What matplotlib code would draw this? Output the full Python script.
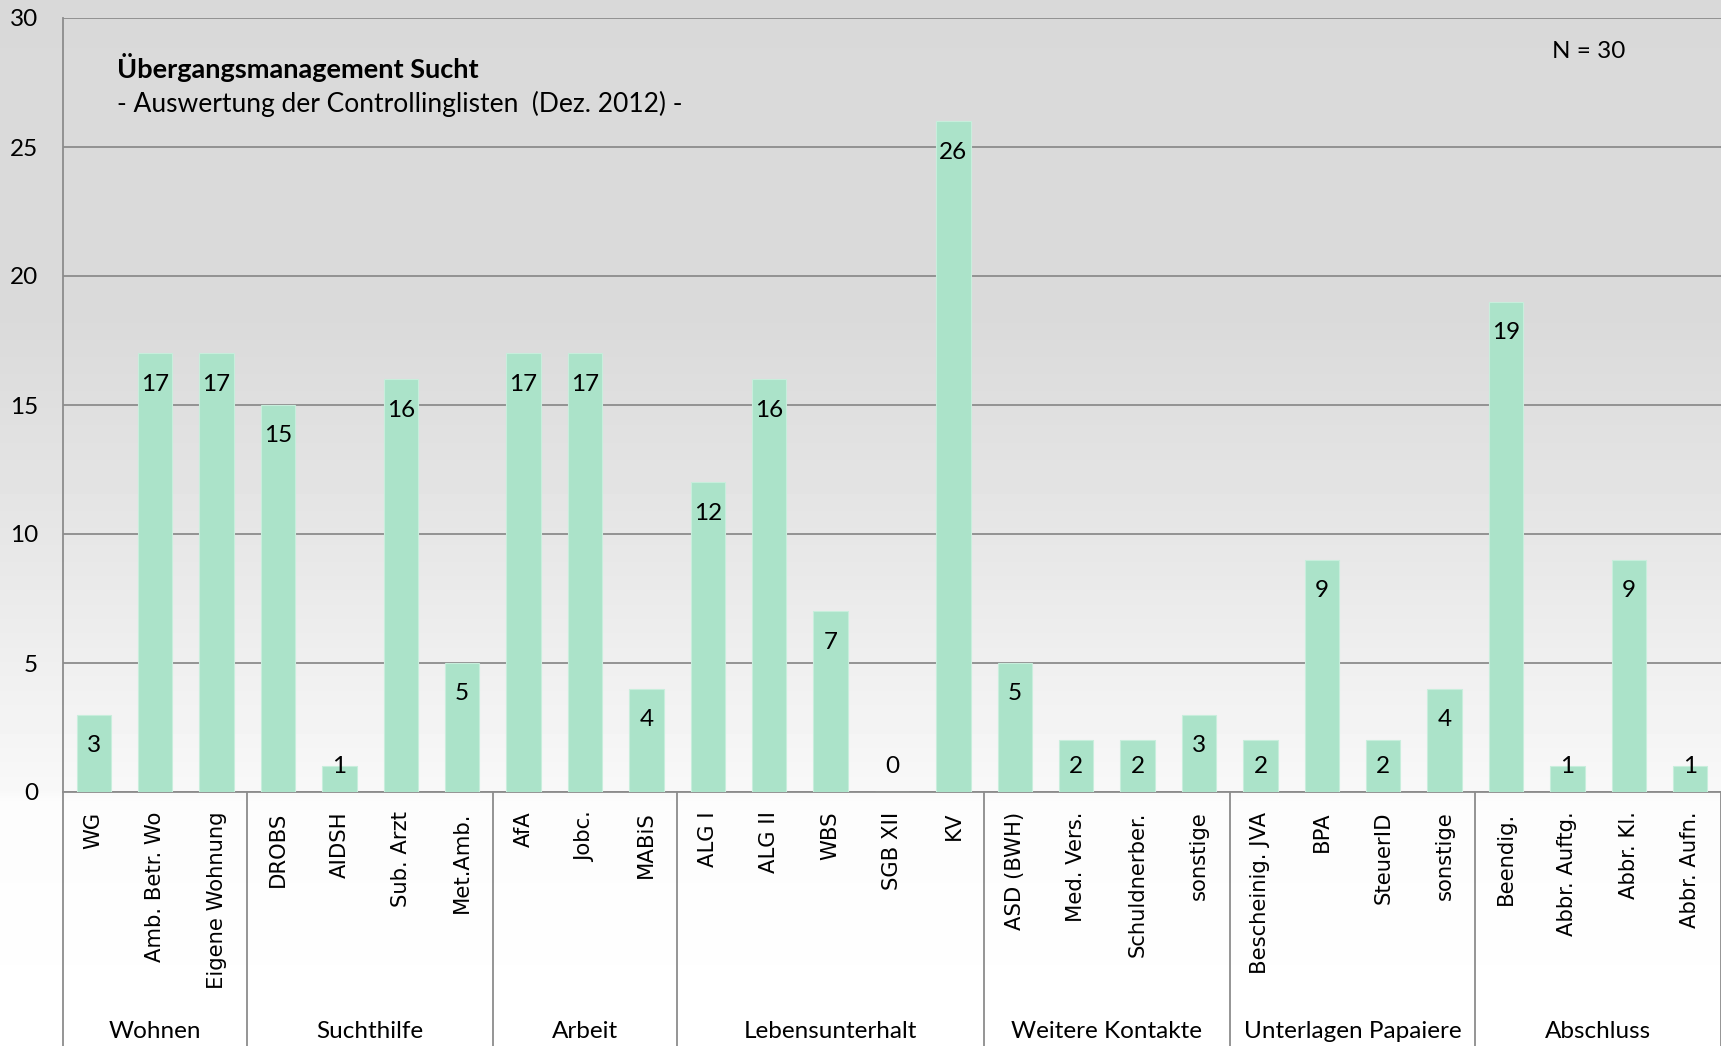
import matplotlib
matplotlib.use("Agg")
import matplotlib.pyplot as plt
import numpy as np

# data
labels = ["WG", "Amb. Betr. Wo", "Eigene Wohnung",
          "DROBS", "AIDSH", "Sub. Arzt", "Met.Amb.",
          "AfA", "Jobc.", "MABiS",
          "ALG I", "ALG II", "WBS", "SGB XII", "KV",
          "ASD (BWH)", "Med. Vers.", "Schuldnerber.", "sonstige",
          "Bescheinig. JVA", "BPA", "SteuerID", "sonstige",
          "Beendig.", "Abbr. Auftg.", "Abbr. Kl.", "Abbr. Aufn."]
values = [3, 17, 17,
          15, 1, 16, 5,
          17, 17, 4,
          12, 16, 7, 0, 26,
          5, 2, 2, 3,
          2, 9, 2, 4,
          19, 1, 9, 1]
groups = ["Wohnen", "Suchthilfe", "Arbeit", "Lebensunterhalt",
          "Weitere Kontakte", "Unterlagen Papaiere", "Abschluss"]
group_sizes = [3, 4, 3, 5, 4, 4, 4]

bar_color = "#abe3c9"
grid_color = "#8c8c8c"
txt = "Lato"

fig = plt.figure(figsize=(17.21, 10.46), dpi=100)

# background gradient: gray at top, white at the bottom
bg = fig.add_axes([0, 0, 1, 1], zorder=-10)
rows = np.arange(1046)
shade = np.interp(rows, [0, 320, 560, 790, 800, 1046], [217, 218, 232, 248, 252, 255]) / 255.0
img = np.repeat(shade[:, None], 2, axis=1)
bg.imshow(img, cmap="gray", vmin=0, vmax=1, aspect="auto", extent=[0, 1, 0, 1], origin="upper")
bg.axis("off")

left = 63 / 1721
bottom = (1046 - 792) / 1046
ax = fig.add_axes([left, bottom, 1 - left, (792 - 18) / 1046])
ax.set_facecolor("none")

x = np.arange(len(values))
ax.bar(x, values, width=0.56, color=bar_color, edgecolor="#c8eedc", linewidth=0.8, zorder=3)
ax.set_xlim(-0.5, len(values) - 0.5)
ax.set_ylim(0, 30)
ax.set_yticks(range(0, 31, 5))
ax.yaxis.grid(True, color=grid_color, linewidth=1.3, zorder=1)
ax.set_axisbelow(True)
ax.tick_params(axis="y", length=0, pad=18, labelsize=17.5)
for t in ax.get_yticklabels():
    t.set_fontfamily(txt)

ax.set_xticks(x)
ax.set_xticklabels(labels, rotation=90, va="top", ha="center", fontsize=15.2, family="DejaVu Sans")
ax.tick_params(axis="x", length=0, pad=14)

for s in ["top", "right"]:
    ax.spines[s].set_visible(False)
ax.spines["left"].set_color(grid_color)
ax.spines["bottom"].set_color(grid_color)
ax.spines["left"].set_linewidth(1.3)
ax.spines["bottom"].set_linewidth(1.3)

# value labels inside the bar tops
for xi, v in zip(x, values):
    ax.text(xi, max(v - 1.2, 0.98), str(v), ha="center", va="center", fontsize=17.5, family=txt, zorder=4)

# group separators and group names under the category labels
bounds = np.concatenate([[0], np.cumsum(group_sizes)]) - 0.5
yb = -(1046 - 792) / 774
for b in bounds:
    ax.plot([b, b], [0, yb], transform=ax.get_xaxis_transform(), color=grid_color,
            linewidth=1.3, clip_on=False)
for g, a, b in zip(groups, bounds[:-1], bounds[1:]):
    ax.text((a + b) / 2, -(1031 - 792) / 774, g, transform=ax.get_xaxis_transform(),
            ha="center", va="center", fontsize=17.5, family=txt)

fig.text(117 / 1721, 1 - 68 / 1046, "Übergangsmanagement Sucht", fontsize=19.5, fontweight="bold",
         family=txt, va="center", ha="left")
fig.text(117 / 1721, 1 - 104 / 1046, "- Auswertung der Controllinglisten  (Dez. 2012) -", fontsize=19,
         family=txt, va="center", ha="left")
fig.text(1589 / 1721, 1 - 51 / 1046, "N = 30", fontsize=17.5, family=txt, va="center", ha="center")

fig.savefig("out.png", dpi=100)
